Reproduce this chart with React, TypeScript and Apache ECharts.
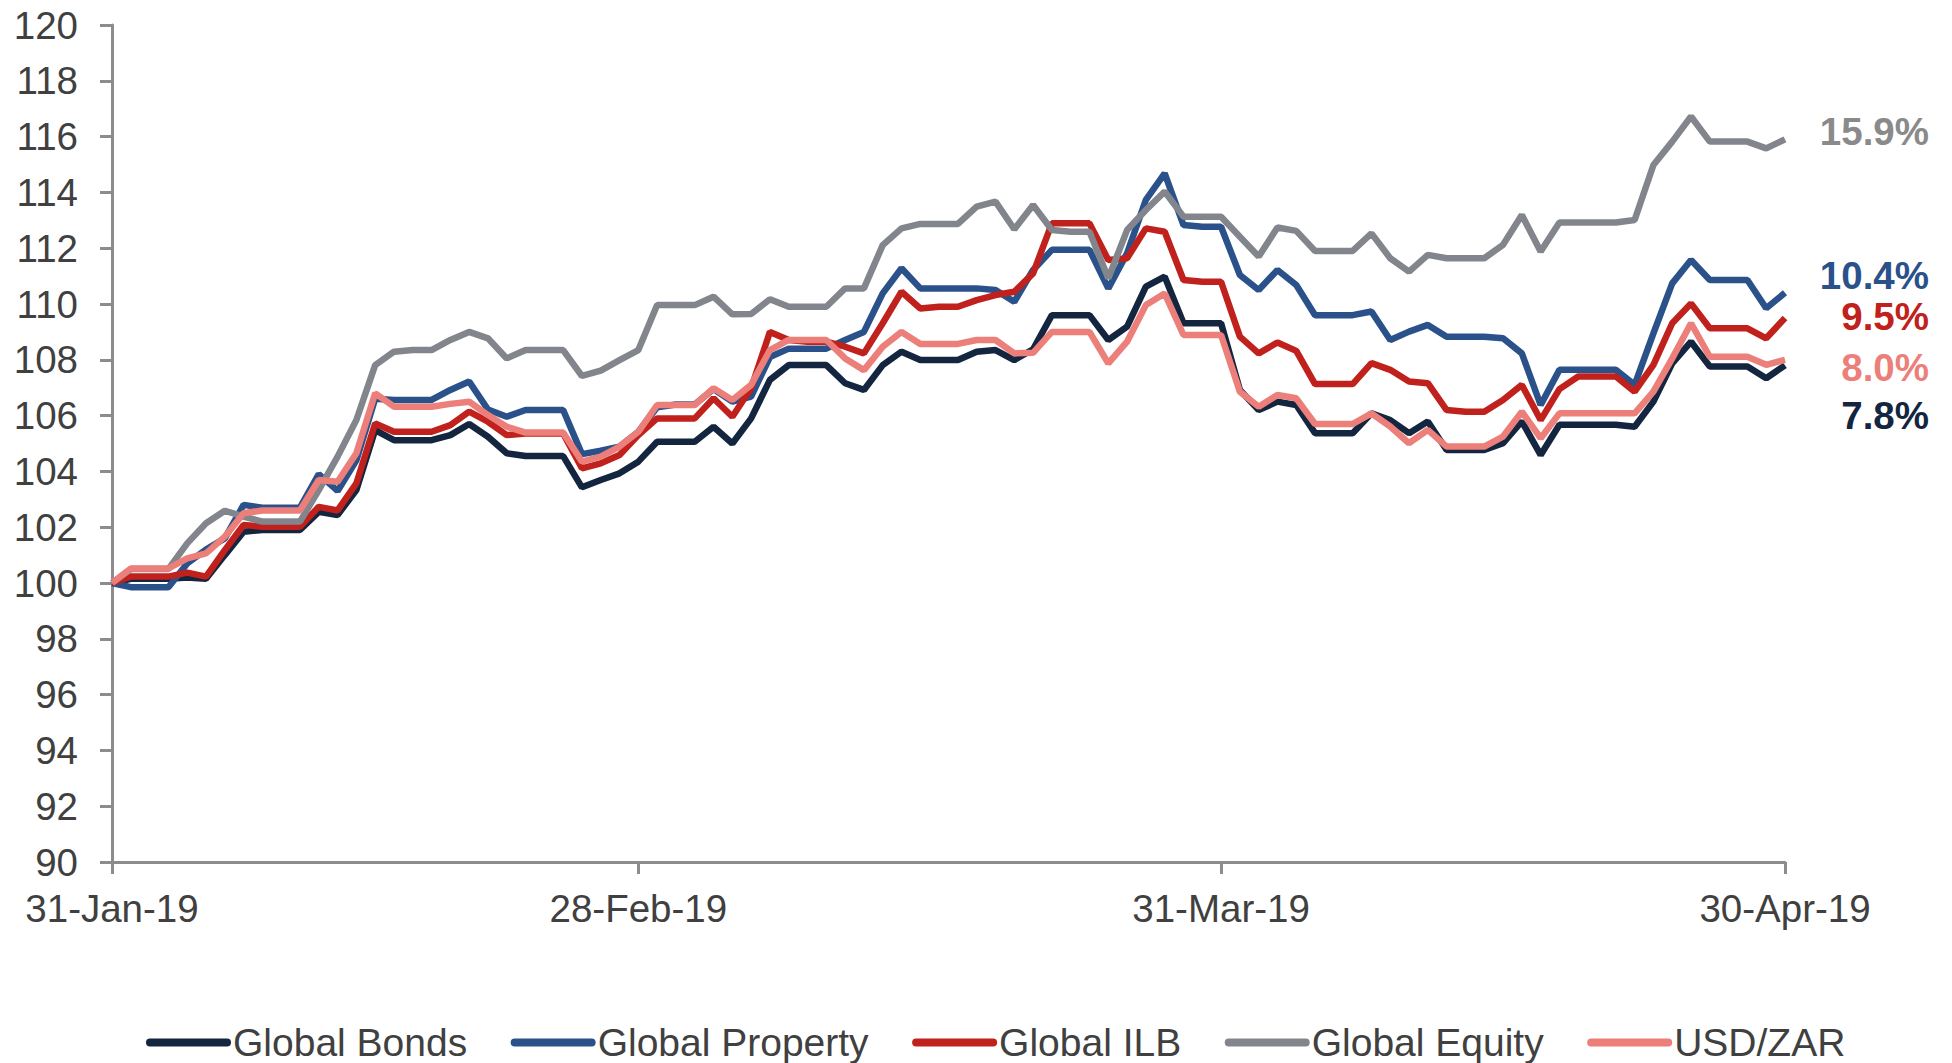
import React, { useEffect, useRef } from "react";
import * as echarts from "echarts";

// Daily index levels, rebased to 100 on 31-Jan-19 (weekends/holidays carry the prior close)
const bonds = [
  100, 100.15, 100.15, 100.15, 100.2, 100.15, 101.0, 101.84, 101.9, 101.9,
  101.9, 102.55, 102.44, 103.33, 105.48, 105.12, 105.12, 105.12, 105.3, 105.7,
  105.24, 104.65, 104.55, 104.55, 104.55, 103.43, 103.69, 103.93, 104.35, 105.06,
  105.06, 105.06, 105.6, 105.0, 105.9, 107.28, 107.81, 107.81, 107.81, 107.16,
  106.92, 107.81, 108.29, 107.99, 107.99, 107.99, 108.29, 108.35, 107.99, 108.38,
  109.6, 109.6, 109.6, 108.71, 109.19, 110.62, 110.98, 109.31, 109.31, 109.31,
  106.92, 106.2, 106.5, 106.38, 105.37, 105.37, 105.37, 106.08, 105.84, 105.37,
  105.79, 104.77, 104.77, 104.77, 105.01, 105.79, 104.59, 105.67, 105.67, 105.67,
  105.67, 105.6, 106.5, 107.87, 108.65, 107.76, 107.76, 107.76, 107.34, 107.8,
];

const property = [
  100, 99.85, 99.85, 99.85, 100.7, 101.2, 101.6, 102.8, 102.7, 102.7,
  102.7, 103.9, 103.3, 104.4, 106.6, 106.56, 106.56, 106.56, 106.92, 107.22,
  106.22, 105.96, 106.2, 106.2, 106.2, 104.62, 104.74, 104.89, 105.42, 106.3,
  106.4, 106.4, 106.95, 106.5, 106.68, 108.1, 108.4, 108.4, 108.4, 108.71,
  109.0, 110.38, 111.28, 110.56, 110.56, 110.56, 110.56, 110.5, 110.08, 111.22,
  111.94, 111.94, 111.94, 110.56, 111.82, 113.73, 114.68, 112.83, 112.77, 112.77,
  111.04, 110.5, 111.22, 110.68, 109.6, 109.6, 109.6, 109.73, 108.71, 109.01,
  109.25, 108.83, 108.83, 108.83, 108.77, 108.23, 106.38, 107.64, 107.64, 107.64,
  107.64, 107.1, 108.95, 110.74, 111.58, 110.86, 110.86, 110.86, 109.85, 110.4,
];

const ilb = [
  100, 100.23, 100.23, 100.23, 100.37, 100.23, 101.18, 102.08, 102.02, 102.02,
  102.02, 102.73, 102.6, 103.57, 105.72, 105.42, 105.42, 105.42, 105.66, 106.14,
  105.78, 105.3, 105.36, 105.36, 105.36, 104.11, 104.29, 104.59, 105.3, 105.9,
  105.9, 105.9, 106.62, 105.96, 106.98, 109.0, 108.71, 108.65, 108.65, 108.47,
  108.23, 109.31, 110.44, 109.84, 109.9, 109.9, 110.14, 110.32, 110.44, 111.1,
  112.89, 112.89, 112.89, 111.58, 111.64, 112.71, 112.59, 110.86, 110.8, 110.8,
  108.83, 108.23, 108.62, 108.32, 107.13, 107.13, 107.13, 107.88, 107.64, 107.22,
  107.16, 106.2, 106.14, 106.14, 106.56, 107.1, 105.84, 106.95, 107.4, 107.4,
  107.4, 106.86, 107.82, 109.31, 110.02, 109.13, 109.13, 109.13, 108.77, 109.5,
];

const equity = [
  100, 100.5, 100.5, 100.5, 101.42, 102.14, 102.59, 102.38, 102.2, 102.2,
  102.2, 103.33, 104.53, 105.84, 107.81, 108.29, 108.35, 108.35, 108.71, 109.0,
  108.77, 108.05, 108.35, 108.35, 108.35, 107.42, 107.61, 107.99, 108.35, 109.96,
  109.96, 109.96, 110.26, 109.63, 109.64, 110.17, 109.9, 109.9, 109.9, 110.56,
  110.56, 112.11, 112.71, 112.87, 112.87, 112.87, 113.49, 113.67, 112.68, 113.55,
  112.65, 112.59, 112.59, 110.92, 112.65, 113.37, 114.03, 113.13, 113.13, 113.13,
  112.41, 111.7, 112.74, 112.62, 111.9, 111.9, 111.9, 112.53, 111.64, 111.16,
  111.76, 111.64, 111.64, 111.64, 112.12, 113.19, 111.88, 112.92, 112.92, 112.92,
  112.92, 113.01, 114.98, 115.82, 116.72, 115.82, 115.82, 115.82, 115.58, 115.9,
];

const usdZar = [
  100, 100.52, 100.52, 100.52, 100.88, 101.06, 101.66, 102.5, 102.6, 102.6,
  102.6, 103.69, 103.63, 104.65, 106.8, 106.32, 106.32, 106.32, 106.42, 106.5,
  106.02, 105.6, 105.39, 105.39, 105.39, 104.35, 104.53, 104.89, 105.42, 106.38,
  106.38, 106.38, 106.98, 106.56, 107.1, 108.35, 108.71, 108.71, 108.71, 108.05,
  107.63, 108.47, 109.0, 108.57, 108.57, 108.57, 108.71, 108.71, 108.23, 108.25,
  109.0, 109.0, 109.0, 107.87, 108.65, 109.96, 110.38, 108.89, 108.89, 108.89,
  106.86, 106.32, 106.74, 106.62, 105.7, 105.7, 105.7, 106.08, 105.61, 105.01,
  105.49, 104.89, 104.89, 104.89, 105.25, 106.14, 105.19, 106.08, 106.08, 106.08,
  106.08, 106.08, 106.86, 108.05, 109.31, 108.11, 108.11, 108.11, 107.82, 108.0,
];

const tickDates = ["31-Jan-19", "28-Feb-19", "31-Mar-19", "30-Apr-19"];
const yTicks = { min: 90, max: 120, interval: 2 };

const MONTHS = ["Jan", "Feb", "Mar", "Apr", "May", "Jun", "Jul", "Aug", "Sep", "Oct", "Nov", "Dec"];
function buildDates(start: Date, count: number): string[] {
  const out: string[] = [];
  for (let i = 0; i < count; i++) {
    const d = new Date(start.getFullYear(), start.getMonth(), start.getDate() + i);
    out.push(`${d.getDate()}-${MONTHS[d.getMonth()]}-${String(d.getFullYear()).slice(2)}`);
  }
  return out;
}
const dates = buildDates(new Date(2019, 0, 31), bonds.length);

const seriesDefs = [
  { name: "Global Bonds", data: bonds, color: "#13253f", labelColor: "#13253f", dy: 50 },
  { name: "Global Property", data: property, color: "#2a5189", labelColor: "#2a5189", dy: -17 },
  { name: "Global ILB", data: ilb, color: "#c0211c", labelColor: "#c0211c", dy: -1 },
  { name: "Global Equity", data: equity, color: "#82868c", labelColor: "#8a8a8a", dy: -8 },
  { name: "USD/ZAR", data: usdZar, color: "#ec7f79", labelColor: "#ec7f79", dy: 8 },
];

const FONT = "'Liberation Sans', Arial, sans-serif";
const FONT_SIZE = 38.5;
const TEXT = "#404040";
const AXIS = "#8c8c8c";

export default function App() {
  const ref = useRef<HTMLDivElement>(null);

  useEffect(() => {
    if (!ref.current) return;
    const chart = echarts.init(ref.current, null, { renderer: "svg" });
    const tickIdx = new Set(tickDates.map((t) => dates.indexOf(t)));

    chart.setOption({
      animation: false,
      backgroundColor: "#ffffff",
      textStyle: { fontFamily: FONT },
      grid: { left: 112, right: 167, top: 25, bottom: 201, containLabel: false },
      legend: {
        left: 141,
        top: 1018,
        itemWidth: 85,
        itemHeight: 8,
        itemGap: 43.5,
        icon: "path://M4,0 H81 A4,4 0 0 1 81,8 H4 A4,4 0 0 1 4,0 Z",
        textStyle: { fontFamily: FONT, fontSize: 39, color: TEXT, padding: [0, 0, 0, -3] },
        data: seriesDefs.map((s) => s.name),
      },
      xAxis: {
        type: "category",
        data: dates,
        boundaryGap: false,
        axisLine: { lineStyle: { color: AXIS, width: 3 } },
        axisTick: {
          show: true,
          length: 12,
          interval: (i: number) => tickIdx.has(i),
          lineStyle: { color: AXIS, width: 3 },
        },
        axisLabel: {
          interval: (i: number) => tickIdx.has(i),
          fontFamily: FONT,
          fontSize: FONT_SIZE,
          color: TEXT,
          margin: 27,
        },
        splitLine: { show: false },
      },
      yAxis: {
        type: "value",
        min: yTicks.min,
        max: yTicks.max,
        interval: yTicks.interval,
        axisLine: { show: true, lineStyle: { color: AXIS, width: 3 } },
        axisTick: { show: true, length: 12, lineStyle: { color: AXIS, width: 3 } },
        axisLabel: { fontFamily: FONT, fontSize: FONT_SIZE, color: TEXT, margin: 34 },
        splitLine: { show: false },
      },
      series: seriesDefs.map((s) => ({
        name: s.name,
        type: "line",
        data: s.data,
        symbol: "none",
        smooth: false,
        color: s.color,
        lineStyle: { color: s.color, width: 6.5 },
      })),
    });

    // Total-return labels at the right end of each line
    const graphics = seriesDefs.map((s) => {
      const last = s.data[s.data.length - 1];
      const first = s.data[0];
      const pct = ((last / first - 1) * 100).toFixed(1) + "%";
      const pt = chart.convertToPixel({ xAxisIndex: 0, yAxisIndex: 0 }, [s.data.length - 1, last]) as number[];
      return {
        type: "text",
        x: 1929,
        y: pt[1] + s.dy,
        style: {
          text: pct,
          fill: s.labelColor,
          font: `bold ${FONT_SIZE}px ${FONT}`,
          textAlign: "right",
          textVerticalAlign: "middle",
        },
      };
    });
    chart.setOption({ graphic: graphics });

    return () => chart.dispose();
  }, []);

  return (
    <div
      ref={ref}
      style={{ position: "fixed", left: 0, top: 0, width: 1952, height: 1063, background: "#fff" }}
    />
  );
}
